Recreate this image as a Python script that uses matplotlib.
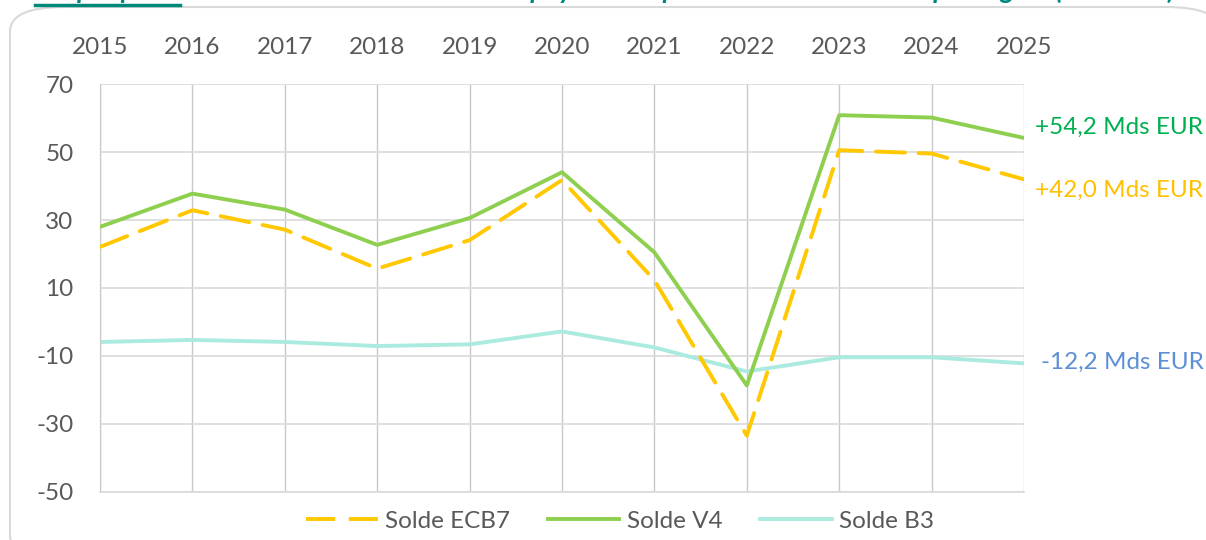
import matplotlib
matplotlib.use("Agg")
import matplotlib.pyplot as plt
from matplotlib.patches import FancyBboxPatch
from matplotlib.lines import Line2D

plt.rcParams['font.family'] = ['Lato', 'DejaVu Sans']

years = [2015, 2016, 2017, 2018, 2019, 2020, 2021, 2022, 2023, 2024, 2025]
solde_ecb7 = [22.1, 32.9, 27.2, 15.7, 24.1, 41.8, 12.3, -33.5, 50.6, 49.6, 42.0]
solde_v4 = [28.0, 37.8, 33.1, 22.7, 30.6, 44.1, 20.5, -18.7, 60.9, 60.2, 54.2]
solde_b3 = [-5.9, -5.3, -5.9, -7.1, -6.6, -2.8, -7.5, -14.6, -10.4, -10.4, -12.2]
yticks = [-50, -30, -10, 10, 30, 50, 70]
end_labels = ["+54,2 Mds EUR", "+42,0 Mds EUR", "-12,2 Mds EUR"]
legend_labels = ["Solde ECB7", "Solde V4", "Solde B3"]
title = "Graphique 4 : Soldes commerciaux avec les pays d'Europe centrale et orientale par région (Mds EUR)"

c_ecb7 = "#FFC800"
c_v4 = "#8FCF50"
c_b3 = "#ABEBDF"
txt = "#595959"
fs = 17.5

fig = plt.figure(figsize=(12.06, 5.40), dpi=100)
W, H = 1206, 540

# rounded frame
frame = FancyBboxPatch((10 / W, -20 / H), 1210 / W, 553 / H,
                       boxstyle="round,pad=0,rounding_size=0.045",
                       transform=fig.transFigure, facecolor="white",
                       edgecolor="#D9D9D9", linewidth=1.5, zorder=-5)
fig.patches.append(frame)

# cut-off title at top (only its lower edge is visible, as in the reference)
fig.text(35 / W, 541 / H, title, color="#00897B", fontsize=19.5, style="italic",
         fontweight="bold", ha="left", va="baseline")
fig.add_artist(Line2D([35 / W, 180 / W], [535.5 / H, 535.5 / H], color="#00897B",
                      linewidth=2.5, transform=fig.transFigure))

ax = fig.add_axes([100 / W, (540 - 491.7) / H, 924 / W, 407.4 / H])
ax.set_zorder(2)
ax.set_facecolor("none")

ax.plot(years, solde_ecb7, color=c_ecb7, linewidth=2.8, dashes=[7.5, 3.5],
        solid_capstyle="round", dash_capstyle="round", zorder=3)
ax.plot(years, solde_v4, color=c_v4, linewidth=2.8, zorder=3)
ax.plot(years, solde_b3, color=c_b3, linewidth=2.8, zorder=2)

ax.set_xlim(2015, 2025)
ax.set_ylim(-50, 70)
ax.set_yticks(yticks)
ax.set_xticks(years)
ax.xaxis.tick_top()
ax.tick_params(axis="x", length=0, pad=19, labelsize=fs, labelcolor=txt)
ax.tick_params(axis="y", length=0, pad=19, labelsize=fs, labelcolor=txt)
ax.set_yticklabels([str(v) for v in yticks])

ax.grid(axis="y", color="#D9D9D9", linewidth=1.2, zorder=1)
ax.grid(axis="x", color="#C8C8C8", linewidth=1.0, zorder=1)
for side in ["top", "right"]:
    ax.spines[side].set_visible(False)
ax.spines["left"].set_color("#C8C8C8")
ax.spines["bottom"].set_color("#D9D9D9")
ax.spines["bottom"].set_linewidth(1.2)

# end labels
fig.text(1035 / W, 1 - 127 / H, end_labels[0], color="#00B050", fontsize=fs, ha="left", va="center")
fig.text(1035 / W, 1 - 190 / H, end_labels[1], color="#FFC000", fontsize=fs, ha="left", va="center")
fig.text(1041 / W, 1 - 362 / H, end_labels[2], color="#5B8FD6", fontsize=fs, ha="left", va="center")

handles = [
    Line2D([], [], color=c_ecb7, linewidth=2.8, dashes=[7.5, 3.5]),
    Line2D([], [], color=c_v4, linewidth=2.8),
    Line2D([], [], color=c_b3, linewidth=2.8),
]
fig.legend(handles, legend_labels, loc="center", bbox_to_anchor=(620 / W, 1 - 521 / H),
           ncol=3, frameon=False, fontsize=fs, handlelength=2.95, handletextpad=0.3,
           columnspacing=1.55, labelcolor=txt)

fig.savefig("out.png", dpi=100)
